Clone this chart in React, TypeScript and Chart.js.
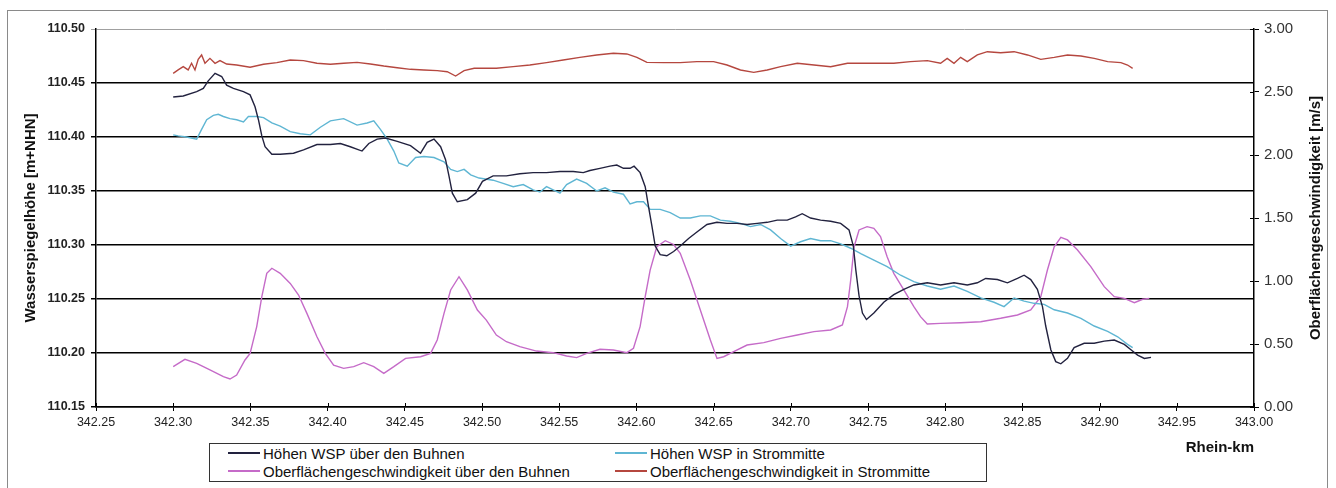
import React, { useEffect, useRef } from "react";
import { Chart, registerables } from "chart.js";

Chart.register(...registerables);

// ---- data (Rhein-km, values) ----
const buhnenKm = [342.300, 342.3065, 342.3152, 342.3195, 342.3227, 342.3271, 342.3314, 342.3346, 342.3390, 342.3455,
  342.3498, 342.3530, 342.3552, 342.3574, 342.3595, 342.3639, 342.3693, 342.3779, 342.3844, 342.3931,
  342.4018, 342.4083, 342.4147, 342.4223, 342.4267, 342.4321, 342.4375, 342.4451, 342.4537, 342.4602,
  342.4645, 342.4689, 342.4732, 342.4764, 342.4786, 342.4808, 342.4840, 342.4905, 342.4959, 342.5003,
  342.5072, 342.5158, 342.5245, 342.5331, 342.5418, 342.5505, 342.5591, 342.5656, 342.5699, 342.5764,
  342.5829, 342.5873, 342.5916, 342.5959, 342.5985, 342.6024, 342.6057, 342.6078, 342.6100, 342.6122,
  342.6154, 342.6197, 342.6241, 342.6284, 342.6338, 342.6392, 342.6457, 342.6522, 342.6587, 342.6652,
  342.6717, 342.6782, 342.6847, 342.6912, 342.6977, 342.7031, 342.7074, 342.7128, 342.7193, 342.7258,
  342.7323, 342.7377, 342.7405, 342.7421, 342.7442, 342.7464, 342.7490, 342.7538, 342.7602, 342.7667,
  342.7732, 342.7797, 342.7884, 342.7970, 342.8057, 342.8143, 342.8208, 342.8262, 342.8338, 342.8403,
  342.8468, 342.8511, 342.8554, 342.8597, 342.8630, 342.8651, 342.8684, 342.8716, 342.8749, 342.8792,
  342.8835, 342.8900, 342.8965, 342.9030, 342.9095, 342.9160, 342.9203, 342.9246, 342.9290, 342.9333];
const buhnenWsp = [110.437, 110.438, 110.442, 110.445, 110.452, 110.459, 110.456, 110.448, 110.445, 110.442,
  110.439, 110.428, 110.416, 110.401, 110.391, 110.384, 110.384, 110.385, 110.388, 110.393,
  110.393, 110.394, 110.391, 110.387, 110.394, 110.398, 110.399, 110.396, 110.392, 110.385,
  110.395, 110.398, 110.391, 110.379, 110.364, 110.348, 110.340, 110.342, 110.348, 110.359,
  110.364, 110.364, 110.366, 110.367, 110.367, 110.368, 110.368, 110.367, 110.369, 110.371,
  110.373, 110.374, 110.371, 110.371, 110.373, 110.367, 110.354, 110.336, 110.318, 110.299,
  110.291, 110.290, 110.294, 110.299, 110.306, 110.312, 110.319, 110.321, 110.320, 110.320,
  110.319, 110.320, 110.321, 110.323, 110.323, 110.326, 110.329, 110.325, 110.323, 110.322,
  110.320, 110.314, 110.299, 110.277, 110.253, 110.237, 110.231, 110.237, 110.247, 110.254,
  110.259, 110.263, 110.265, 110.263, 110.265, 110.263, 110.265, 110.269, 110.268, 110.265,
  110.269, 110.272, 110.268, 110.259, 110.243, 110.225, 110.203, 110.192, 110.190, 110.195,
  110.205, 110.209, 110.209, 110.211, 110.212, 110.208, 110.203, 110.198, 110.195, 110.196];

const mitteKm = [342.300, 342.3032, 342.3087, 342.3152, 342.3184, 342.3217, 342.3260, 342.3292, 342.3325, 342.3368,
  342.3411, 342.3455, 342.3487, 342.3541, 342.3585, 342.3639, 342.3693, 342.3758, 342.3823, 342.3888,
  342.3953, 342.4018, 342.4104, 342.4191, 342.4256, 342.4299, 342.4342, 342.4386, 342.4429, 342.4461,
  342.4516, 342.4570, 342.4624, 342.4689, 342.4754, 342.4797, 342.4840, 342.4884, 342.4927, 342.4981,
  342.5072, 342.5137, 342.5202, 342.5267, 342.5331, 342.5375, 342.5418, 342.5461, 342.5505, 342.5548,
  342.5613, 342.5678, 342.5743, 342.5797, 342.5851, 342.5916, 342.5959, 342.6003, 342.6046, 342.6089,
  342.6154, 342.6219, 342.6284, 342.6349, 342.6414, 342.6479, 342.6544, 342.6609, 342.6674, 342.6739,
  342.6804, 342.6869, 342.6934, 342.6999, 342.7063, 342.7128, 342.7193, 342.7258, 342.7323, 342.7388,
  342.7453, 342.7538, 342.7624, 342.7711, 342.7797, 342.7884, 342.7970, 342.8057, 342.8143, 342.8230,
  342.8316, 342.8381, 342.8446, 342.8511, 342.8576, 342.8641, 342.8706, 342.8792, 342.8879, 342.8965,
  342.9052, 342.9117, 342.9181, 342.9214];
const mitteWsp = [110.402, 110.401, 110.400, 110.398, 110.407, 110.416, 110.420, 110.421, 110.419, 110.417,
  110.416, 110.414, 110.419, 110.419, 110.418, 110.413, 110.410, 110.405, 110.403, 110.402,
  110.409, 110.415, 110.417, 110.411, 110.413, 110.415, 110.407, 110.398, 110.387, 110.376,
  110.373, 110.381, 110.382, 110.381, 110.377, 110.370, 110.368, 110.370, 110.365, 110.362,
  110.360, 110.357, 110.354, 110.356, 110.351, 110.349, 110.354, 110.351, 110.348, 110.356,
  110.361, 110.357, 110.350, 110.353, 110.349, 110.347, 110.338, 110.340, 110.340, 110.333,
  110.333, 110.330, 110.325, 110.325, 110.327, 110.327, 110.323, 110.322, 110.320, 110.317,
  110.319, 110.314, 110.306, 110.299, 110.303, 110.306, 110.304, 110.304, 110.301, 110.297,
  110.292, 110.286, 110.280, 110.272, 110.266, 110.262, 110.259, 110.262, 110.257, 110.251,
  110.247, 110.243, 110.251, 110.248, 110.246, 110.245, 110.240, 110.237, 110.232, 110.225,
  110.220, 110.215, 110.208, 110.205];

const vBuhnenKm = [342.300, 342.3076, 342.3152, 342.3238, 342.3325, 342.3368, 342.3411, 342.3465, 342.3498, 342.3541,
  342.3574, 342.3606, 342.3639, 342.3693, 342.3758, 342.3812, 342.3866, 342.3931, 342.3985, 342.4039,
  342.4104, 342.4169, 342.4234, 342.4299, 342.4364, 342.4429, 342.4505, 342.4602, 342.4667, 342.4710,
  342.4754, 342.4797, 342.4851, 342.4905, 342.4970, 342.5028, 342.5093, 342.5158, 342.5245, 342.5353,
  342.5461, 342.5548, 342.5613, 342.5678, 342.5764, 342.5851, 342.5938, 342.5981, 342.6024, 342.6057,
  342.6089, 342.6132, 342.6187, 342.6241, 342.6284, 342.6349, 342.6414, 342.6479, 342.6522, 342.6565,
  342.6630, 342.6717, 342.6825, 342.6934, 342.7042, 342.7150, 342.7258, 342.7334, 342.7367, 342.7388,
  342.7410, 342.7442, 342.7494, 342.7538, 342.7581, 342.7624, 342.7667, 342.7732, 342.7797, 342.7840,
  342.7884, 342.7970, 342.8100, 342.8230, 342.8359, 342.8468, 342.8554, 342.8619, 342.8662, 342.8706,
  342.8749, 342.8792, 342.8857, 342.8943, 342.9030, 342.9095, 342.9160, 342.9225, 342.9279, 342.9322];
const vBuhnen = [0.320, 0.378, 0.346, 0.294, 0.241, 0.222, 0.254, 0.373, 0.426, 0.638,
  0.876, 1.061, 1.101, 1.061, 0.981, 0.889, 0.743, 0.558, 0.426, 0.333,
  0.307, 0.320, 0.352, 0.320, 0.267, 0.320, 0.386, 0.399, 0.426, 0.532,
  0.743, 0.929, 1.034, 0.929, 0.770, 0.690, 0.571, 0.518, 0.479, 0.444,
  0.431, 0.405, 0.392, 0.426, 0.458, 0.452, 0.431, 0.466, 0.638, 0.876,
  1.087, 1.272, 1.320, 1.290, 1.220, 1.008, 0.770, 0.532, 0.386, 0.399,
  0.439, 0.492, 0.511, 0.545, 0.571, 0.598, 0.611, 0.651, 0.796, 1.008,
  1.272, 1.405, 1.431, 1.418, 1.352, 1.193, 1.061, 0.929, 0.796, 0.717,
  0.659, 0.664, 0.669, 0.677, 0.704, 0.730, 0.770, 0.876, 1.087, 1.272,
  1.347, 1.326, 1.246, 1.114, 0.955, 0.876, 0.862, 0.828, 0.855, 0.862];

const vMitteKm = [342.300, 342.3032, 342.3065, 342.3097, 342.3119, 342.3141, 342.3162, 342.3184, 342.3206, 342.3238,
  342.3271, 342.3303, 342.3346, 342.3411, 342.3498, 342.3585, 342.3671, 342.3758, 342.3844, 342.3931,
  342.4018, 342.4104, 342.4191, 342.4277, 342.4364, 342.4451, 342.4537, 342.4624, 342.4710, 342.4775,
  342.4829, 342.4884, 342.4949, 342.5093, 342.5202, 342.5310, 342.5418, 342.5526, 342.5634, 342.5743,
  342.5851, 342.5938, 342.6003, 342.6068, 342.6176, 342.6284, 342.6392, 342.6500, 342.6587, 342.6674,
  342.6760, 342.6847, 342.6934, 342.7042, 342.7150, 342.7258, 342.7367, 342.7559, 342.7667, 342.7775,
  342.7884, 342.7970, 342.8013, 342.8057, 342.8100, 342.8143, 342.8208, 342.8273, 342.8359, 342.8446,
  342.8533, 342.8619, 342.8706, 342.8792, 342.8879, 342.8965, 342.9052, 342.9138, 342.9181, 342.9214];
const vMitte = [2.648, 2.675, 2.701, 2.675, 2.728, 2.675, 2.759, 2.794, 2.728, 2.767,
  2.728, 2.749, 2.722, 2.714, 2.696, 2.720, 2.733, 2.754, 2.749, 2.728,
  2.720, 2.728, 2.735, 2.722, 2.706, 2.693, 2.680, 2.675, 2.670, 2.661,
  2.627, 2.670, 2.688, 2.688, 2.701, 2.714, 2.733, 2.754, 2.775, 2.794,
  2.807, 2.802, 2.775, 2.735, 2.733, 2.733, 2.741, 2.741, 2.714, 2.675,
  2.656, 2.675, 2.701, 2.728, 2.714, 2.701, 2.728, 2.728, 2.728, 2.741,
  2.749, 2.728, 2.767, 2.728, 2.775, 2.741, 2.794, 2.820, 2.812, 2.820,
  2.794, 2.759, 2.775, 2.794, 2.786, 2.767, 2.741, 2.733, 2.714, 2.688];

const seriesLabels = [
  "Höhen WSP über den Buhnen",
  "Höhen WSP in Strommitte",
  "Oberflächengeschwindigkeit über den Buhnen",
  "Oberflächengeschwindigkeit in Strommitte",
];
const seriesColors = ["#22223f", "#5fb6d3", "#c56bc8", "#b5473f"];

const xTitle = "Rhein-km";
const yLeftTitle = "Wasserspiegelhöhe [m+NHN]";
const yRightTitle = "Oberflächengeschwindigkeit [m/s]";

const FONT = '"Liberation Sans", Arial, sans-serif';

function pts(xs: number[], ys: number[]) {
  const n = Math.min(xs.length, ys.length);
  const out: { x: number; y: number }[] = [];
  for (let i = 0; i < n; i++) out.push({ x: xs[i], y: ys[i] });
  return out;
}

const extrasPlugin = {
  id: "extras",
  afterDraw(chart: any) {
    const { ctx, chartArea } = chart;
    const xs = chart.scales.x;
    const yr = chart.scales.y1;
    ctx.save();
    ctx.strokeStyle = "#000";
    ctx.lineWidth = 1;
    // inner halves of crossing ticks
    xs.ticks.forEach((t: any) => {
      const px = Math.round(xs.getPixelForValue(t.value)) + 0.5;
      ctx.beginPath();
      ctx.moveTo(px, chartArea.bottom - 4);
      ctx.lineTo(px, chartArea.bottom);
      ctx.stroke();
    });
    yr.ticks.forEach((t: any) => {
      const py = Math.round(yr.getPixelForValue(t.value)) + 0.5;
      ctx.beginPath();
      ctx.moveTo(chartArea.right - 4, py);
      ctx.lineTo(chartArea.right, py);
      ctx.stroke();
    });
    // right axis title, reading bottom-to-top
    ctx.translate(1316, (chartArea.top + chartArea.bottom) / 2);
    ctx.rotate(-Math.PI / 2);
    ctx.font = `bold 15px ${FONT}`;
    ctx.fillStyle = "#111";
    ctx.textAlign = "center";
    ctx.textBaseline = "middle";
    ctx.fillText(yRightTitle, 0, 0);
    ctx.restore();
  },
};

function ChartView() {
  const ref = useRef<HTMLCanvasElement | null>(null);
  useEffect(() => {
    if (!ref.current) return;
    Chart.defaults.font.family = FONT;
    const fmt = (v: any) => Number(v).toFixed(2);
    const chart = new Chart(ref.current, {
      type: "line",
      data: {
        datasets: [
          { label: seriesLabels[0], data: pts(buhnenKm, buhnenWsp), yAxisID: "y", borderColor: seriesColors[0] },
          { label: seriesLabels[1], data: pts(mitteKm, mitteWsp), yAxisID: "y", borderColor: seriesColors[1] },
          { label: seriesLabels[2], data: pts(vBuhnenKm, vBuhnen), yAxisID: "y1", borderColor: seriesColors[2] },
          { label: seriesLabels[3], data: pts(vMitteKm, vMitte), yAxisID: "y1", borderColor: seriesColors[3] },
        ].map((d) => ({ ...d, borderWidth: 1.4, pointRadius: 0, tension: 0, fill: false })),
      },
      options: {
        responsive: false,
        animation: false,
        devicePixelRatio: 1,
        layout: { padding: { left: 0, right: 0, top: 29, bottom: 0 } },
        plugins: { legend: { display: false }, tooltip: { enabled: false } },
        scales: {
          x: {
            type: "linear",
            min: 342.25,
            max: 343.0,
            ticks: { stepSize: 0.05, callback: fmt, font: { size: 12.5 }, color: "#222", padding: 4, maxRotation: 0, autoSkip: false },
            grid: { drawOnChartArea: false, tickLength: 4, color: "#000" },
            border: { color: "#000", width: 1.5 },
            title: { display: true, text: xTitle, align: "end", color: "#111", font: { size: 15, weight: "bold" }, padding: { top: 0, bottom: 31 } },
            afterFit: (s: any) => { s.height = 81; },
          },
          y: {
            position: "left",
            min: 110.15,
            max: 110.5,
            ticks: { stepSize: 0.05, callback: fmt, font: { size: 12.5, weight: "bold" }, color: "#222", padding: 6 },
            grid: {
              tickLength: 5,
              color: (c: any) => (c.tick && Math.abs(c.tick.value - 110.5) < 1e-6 ? "#a0a0a0" : "#000"),
              lineWidth: (c: any) => (c.tick && Math.abs(c.tick.value - 110.5) < 1e-6 ? 1 : 1.5),
            },
            border: { color: "#000", width: 1.5 },
            title: { display: true, text: yLeftTitle, color: "#111", font: { size: 15, weight: "bold" }, padding: { top: 22, bottom: 0 } },
            afterFit: (s: any) => { s.width = 96; },
          },
          y1: {
            position: "right",
            min: 0,
            max: 3,
            ticks: { stepSize: 0.5, callback: fmt, font: { size: 15 }, color: "#333", padding: 5 },
            grid: { drawOnChartArea: false, tickLength: 5, color: "#000" },
            border: { color: "#000", width: 1.5 },
            afterFit: (s: any) => { s.width = 82; },
          },
        },
      } as any,
      plugins: [extrasPlugin],
    });
    return () => chart.destroy();
  }, []);
  return <canvas ref={ref} width={1336} height={488} style={{ position: "absolute", left: 0, top: 0, width: 1336, height: 488 }} />;
}

function Legend() {
  const item = (i: number, left: number, top: number) => (
    <div key={i} style={{ position: "absolute", left, top, height: 18, display: "flex", alignItems: "center", whiteSpace: "nowrap" }}>
      <span style={{ display: "inline-block", width: 32, height: 0, borderTop: `2px solid ${seriesColors[i]}`, marginRight: 3 }} />
      <span style={{ font: `15px ${FONT}`, color: "#111" }}>{seriesLabels[i]}</span>
    </div>
  );
  return (
    <div style={{ position: "absolute", left: 209, top: 443, width: 778, height: 39, border: "1px solid #333", background: "#fff", boxSizing: "border-box" }}>
      {item(0, 18, 0)}
      {item(1, 405, 0)}
      {item(2, 18, 18)}
      {item(3, 405, 18)}
    </div>
  );
}

export default function App() {
  return (
    <div style={{ position: "absolute", left: 0, top: 0, width: 1336, height: 488, background: "#fff", overflow: "hidden" }}>
      <div style={{ position: "absolute", left: 7, top: 10, width: 1321, height: 490, border: "1px solid #8a8a8a", boxSizing: "border-box" }} />
      <ChartView />
      <Legend />
    </div>
  );
}
